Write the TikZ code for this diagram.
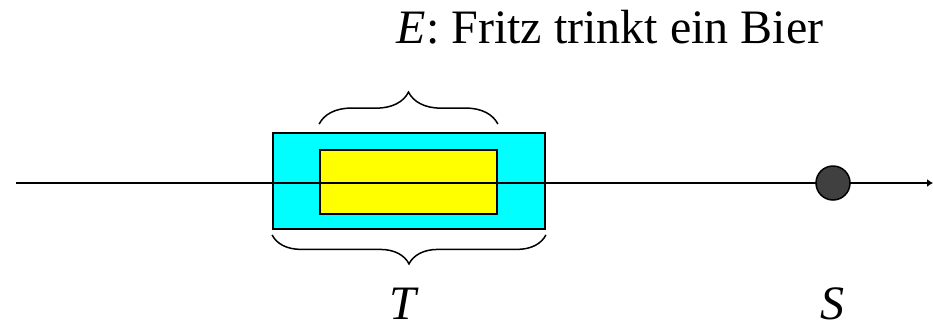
\documentclass[tikz,border=0pt]{standalone}
\usepackage{fontspec}
\setmainfont{Liberation Serif}
\usetikzlibrary{arrows.meta,decorations.pathreplacing}
\definecolor{boxcyan}{RGB}{0,255,255}
\definecolor{boxyellow}{RGB}{255,255,0}
\definecolor{dotgray}{RGB}{64,64,64}
\begin{document}
\begin{tikzpicture}[x=1pt,y=-1pt,
  lbl/.style={font=\fontsize{48}{58}\selectfont, inner sep=0pt, anchor=base},
  bx/.style={draw=black, line width=1.8pt},
  brc/.style={draw=black, line width=1.5pt, decorate, decoration={brace, amplitude=#1}}]
\useasboundingbox (0,0) rectangle (933,330);
\coordinate (L) at (16,183);
\coordinate (R) at (933,183);
\node[bx, fill=boxcyan, minimum width=272pt, minimum height=96pt, inner sep=0pt] (outer) at (409,181) {};
\node[bx, fill=boxyellow, minimum width=177pt, minimum height=64pt, inner sep=0pt] (inner) at (408.5,182) {};
\draw[line width=1.8pt, -{Latex[length=6pt,width=8pt]}] (L) -- (R);
\node[draw=black, line width=1.5pt, fill=dotgray, circle, minimum size=34pt, inner sep=0pt] (S) at (833,183) {};
\draw[brc=32pt] ([yshift=25pt]inner.north west) -- ([yshift=25pt]inner.north east);
\draw[brc=29pt] ([yshift=-5pt]outer.south east) -- ([yshift=-5pt]outer.south west);
\node[lbl] (E) at (610,43) {\textit{E}: Fritz trinkt ein Bier};
\node[lbl] (T) at (404,319) {\textit{T}};
\node[lbl] (Sl) at (832,319) {\textit{S}};
\end{tikzpicture}
\end{document}
